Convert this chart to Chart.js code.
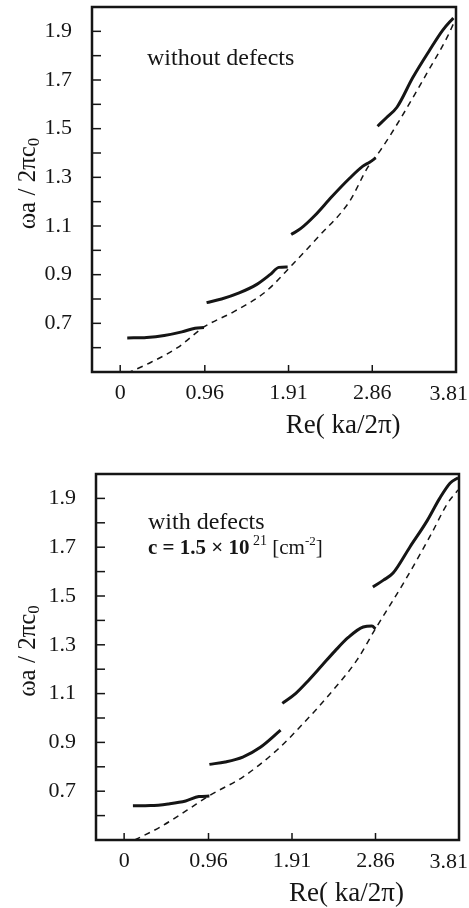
<!DOCTYPE html>
<html>
<head>
<meta charset="utf-8">
<script src="https://cdn.jsdelivr.net/npm/chart.js@4.4.1/dist/chart.umd.min.js"></script>
<style>
    html, body { margin: 0; padding: 0; background: #fff; }
    body { width: 469px; height: 908px; position: relative; overflow: hidden; }
    .panel { position: absolute; left: 0; width: 469px; height: 450px; }
    #topPanel { top: 0; }
    #bottomPanel { top: 458px; }
</style>
</head>
<body>
<div class="panel" id="topPanel"><canvas id="topChart" width="469" height="450"></canvas></div>
<div class="panel" id="bottomPanel"><canvas id="bottomChart" width="469" height="450"></canvas></div>
<script>
// ===================================
// Data
// ===================================
const xTickValues = [0, 0.96, 1.91, 2.86, 3.81];
const xTickLabels = ['0', '0.96', '1.91', '2.86', '3.81'];
const yTickLabels = ['0.7', '0.9', '1.1', '1.3', '1.5', '1.7', '1.9'];

// without defects
const topBand1X = [0.08, 0.30, 0.50, 0.70, 0.85, 0.95];
const topBand1Y = [0.640, 0.642, 0.650, 0.665, 0.680, 0.683];
const topBand2X = [0.98, 1.15, 1.35, 1.55, 1.70, 1.80, 1.90];
const topBand2Y = [0.785, 0.800, 0.825, 0.860, 0.900, 0.930, 0.932];
const topBand3X = [1.94, 2.05, 2.20, 2.40, 2.60, 2.75, 2.83, 2.90];
const topBand3Y = [1.065, 1.090, 1.140, 1.220, 1.295, 1.345, 1.362, 1.380];
const topBand4X = [2.92, 3.02, 3.14, 3.32, 3.51, 3.66, 3.78];
const topBand4Y = [1.510, 1.545, 1.588, 1.710, 1.822, 1.905, 1.955];
const topLightX = [0.08, 0.35, 0.65, 0.95, 1.30, 1.65, 1.95, 2.26, 2.60, 2.81, 2.95, 3.17, 3.48, 3.71, 3.80];
const topLightY = [0.495, 0.540, 0.600, 0.685, 0.750, 0.830, 0.940, 1.060, 1.200, 1.342, 1.410, 1.535, 1.728, 1.876, 1.946];

// with defects
const botBand1X = [0.10, 0.30, 0.50, 0.70, 0.85, 0.97];
const botBand1Y = [0.640, 0.641, 0.648, 0.660, 0.678, 0.680];
const botBand2X = [0.97, 1.15, 1.35, 1.55, 1.78];
const botBand2Y = [0.810, 0.820, 0.840, 0.880, 0.950];
const botBand3X = [1.80, 1.95, 2.10, 2.25, 2.40, 2.55, 2.72, 2.82, 2.86];
const botBand3Y = [1.060, 1.100, 1.155, 1.215, 1.275, 1.330, 1.373, 1.377, 1.365];
const botBand4X = [2.83, 2.95, 3.06, 3.25, 3.45, 3.59, 3.71, 3.80];
const botBand4Y = [1.537, 1.565, 1.594, 1.700, 1.810, 1.900, 1.963, 1.985];
const botLightX = [0.12, 0.41, 0.72, 0.98, 1.35, 1.74, 2.00, 2.38, 2.65, 2.85, 3.20, 3.50, 3.68, 3.80];
const botLightY = [0.500, 0.553, 0.623, 0.684, 0.758, 0.869, 0.963, 1.115, 1.238, 1.360, 1.566, 1.758, 1.880, 1.935];

// ===================================
// Helpers
// ===================================
const SERIF = '"Liberation Serif", "DejaVu Serif", serif';
const INK = '#151515';

function zip(xs, ys) {
    return xs.map((x, i) => ({ x: x, y: ys[i] }));
}

function solid(xs, ys) {
    return {
        data: zip(xs, ys),
        borderColor: INK,
        borderWidth: 3,
        pointRadius: 0,
        fill: false,
        cubicInterpolationMode: 'monotone'
    };
}

function dashed(xs, ys) {
    return {
        data: zip(xs, ys),
        borderColor: INK,
        borderWidth: 1.5,
        borderDash: [6, 5],
        pointRadius: 0,
        fill: false,
        cubicInterpolationMode: 'monotone'
    };
}

// draw a run of text pieces [{t, size, bold, dy}]
function drawRuns(ctx, runs, x, y, align) {
    let total = 0;
    runs.forEach(r => {
        ctx.font = (r.bold ? 'bold ' : '') + r.size + 'px ' + SERIF;
        r.w = ctx.measureText(r.t).width;
        total += r.w;
    });
    let cx = align === 'center' ? x - total / 2 : (align === 'right' ? x - total : x);
    ctx.textAlign = 'left';
    ctx.textBaseline = 'alphabetic';
    runs.forEach(r => {
        ctx.font = (r.bold ? 'bold ' : '') + r.size + 'px ' + SERIF;
        ctx.fillText(r.t, cx, y + (r.dy || 0));
        cx += r.w;
    });
}

// frame, inward tick marks and the text labels
const framePlugin = {
    id: 'frame',
    afterDraw(chart, args, opts) {
        const ctx = chart.ctx;
        const a = chart.chartArea;
        const xs = chart.scales.x;
        const ys = chart.scales.y;
        ctx.save();
        ctx.strokeStyle = INK;
        ctx.lineWidth = 1.5;
        xTickValues.forEach(v => {
            const px = xs.getPixelForValue(v);
            if (px >= a.right - 2) return;
            ctx.beginPath();
            ctx.moveTo(px, a.bottom);
            ctx.lineTo(px, a.bottom - 7);
            ctx.stroke();
        });
        ys.ticks.forEach(t => {
            const k = Math.round(t.value * 10);
            if (k <= 5 || k >= 20) return;
            const py = ys.getPixelForValue(t.value);
            ctx.beginPath();
            ctx.moveTo(a.left, py);
            ctx.lineTo(a.left + 9, py);
            ctx.stroke();
        });
        ctx.lineWidth = 2.5;
        ctx.strokeRect(a.left, a.top, a.right - a.left, a.bottom - a.top);

        ctx.fillStyle = INK;
        // last x tick label sits flush with the right edge of the figure
        const lastX = xs.getPixelForValue(xTickValues[xTickValues.length - 1]);
        drawRuns(ctx, [{ t: xTickLabels[xTickLabels.length - 1], size: 22 }],
            Math.min(lastX + 20, chart.width - 1), a.bottom + 28, 'right');
        // x title
        drawRuns(ctx, [{ t: 'Re( ka/2\u03c0)', size: 27 }],
            a.left + (a.right - a.left) * 0.69, a.bottom + 61, 'center');
        // y title
        ctx.save();
        ctx.translate(27, (a.top + a.bottom) / 2 - 6);
        ctx.rotate(-Math.PI / 2);
        drawRuns(ctx, [
            { t: '\u03c9a / 2\u03c0c', size: 25 },
            { t: '0', size: 17, dy: 4 }
        ], 0, 8, 'center');
        ctx.restore();
        // annotation
        (opts.lines || []).forEach(l => {
            drawRuns(ctx, l.runs, a.left + l.dx, a.top + l.dy, 'left');
        });
        ctx.restore();
    }
};

function makeOptions(area, lines) {
    return {
        responsive: false,
        animation: false,
        layout: { padding: { top: area.top, right: area.right, left: 0, bottom: 0 } },
        plugins: {
            legend: { display: false },
            tooltip: { enabled: false },
            frame: { lines: lines }
        },
        scales: {
            x: {
                type: 'linear',
                min: -0.32,
                max: 3.81,
                grid: { display: false, drawTicks: false },
                border: { display: false },
                afterBuildTicks: function(scale) {
                    scale.ticks = xTickValues.map(v => ({ value: v }));
                },
                afterFit: function(scale) {
                    scale.height = area.xHeight;
                    scale.paddingLeft = 0;
                    scale.paddingRight = 0;
                },
                ticks: {
                    autoSkip: false,
                    maxRotation: 0,
                    padding: 8,
                    color: INK,
                    font: { family: SERIF, size: 22 },
                    callback: function(value) {
                        const i = xTickValues.indexOf(value);
                        // the last label is drawn by the frame plugin
                        return (i >= 0 && i < xTickValues.length - 1) ? xTickLabels[i] : '';
                    }
                }
            },
            y: {
                type: 'linear',
                min: 0.5,
                max: 2.0,
                grid: { display: false, drawTicks: false },
                border: { display: false },
                afterFit: function(scale) {
                    scale.width = area.yWidth;
                    scale.paddingTop = 0;
                    scale.paddingBottom = 0;
                },
                ticks: {
                    stepSize: 0.1,
                    autoSkip: false,
                    padding: 20,
                    color: INK,
                    font: { family: SERIF, size: 22 },
                    callback: function(value) {
                        const k = Math.round(value * 10);
                        const label = (k / 10).toFixed(1);
                        return yTickLabels.indexOf(label) >= 0 ? label : '';
                    }
                }
            }
        }
    };
}

// ===================================
// Charts
// ===================================
new Chart(document.getElementById('topChart'), {
    type: 'line',
    data: {
        datasets: [
            solid(topBand1X, topBand1Y),
            solid(topBand2X, topBand2Y),
            solid(topBand3X, topBand3Y),
            solid(topBand4X, topBand4Y),
            dashed(topLightX, topLightY)
        ]
    },
    options: makeOptions(
        { top: 7, right: 13, xHeight: 78, yWidth: 92 },
        [{ dx: 55, dy: 58, runs: [{ t: 'without defects', size: 24 }] }]
    ),
    plugins: [framePlugin]
});

new Chart(document.getElementById('bottomChart'), {
    type: 'line',
    data: {
        datasets: [
            solid(botBand1X, botBand1Y),
            solid(botBand2X, botBand2Y),
            solid(botBand3X, botBand3Y),
            solid(botBand4X, botBand4Y),
            dashed(botLightX, botLightY)
        ]
    },
    options: makeOptions(
        { top: 16, right: 10, xHeight: 68, yWidth: 96 },
        [
            { dx: 52, dy: 55, runs: [{ t: 'with defects', size: 24 }] },
            { dx: 52, dy: 80, runs: [
                { t: 'c = 1.5 \u00d7 10', size: 21, bold: true },
                { t: ' 21', size: 14, dy: -9 },
                { t: ' [cm', size: 21 },
                { t: '-2', size: 13, dy: -9 },
                { t: ']', size: 21 }
            ] }
        ]
    ),
    plugins: [framePlugin]
});
</script>
</body>
</html>
